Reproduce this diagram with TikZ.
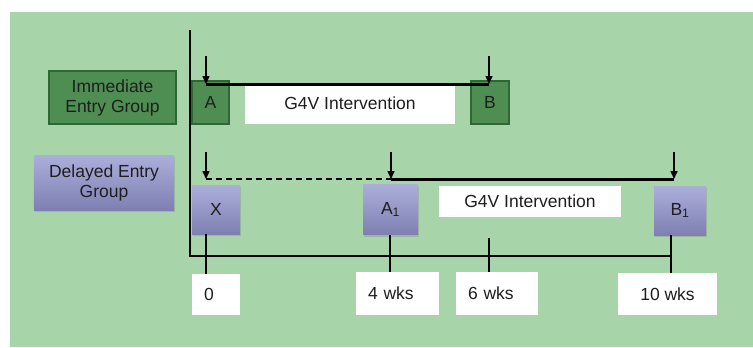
\documentclass[tikz,border=0pt]{standalone}
\usepackage{fontspec}
\setmainfont{Liberation Sans}
\usetikzlibrary{arrows.meta,shadows}
\definecolor{panel}{RGB}{168,212,170}
\definecolor{immfill}{RGB}{78,142,82}
\definecolor{immline}{RGB}{46,102,52}
\definecolor{deltop}{RGB}{172,174,218}
\definecolor{delbot}{RGB}{126,128,178}
\definecolor{ink}{RGB}{30,30,30}

\begin{document}
\begin{tikzpicture}[x=1bp, y=-1bp,
  every node/.style={font=\fontsize{17.5bp}{20bp}\selectfont, text=ink, inner sep=0pt},
  immbox/.style={draw=immline, fill=immfill, line width=1.2bp, align=center},
  delbox/.style={top color=deltop, bottom color=delbot, align=center,
    drop shadow={opacity=0.3, shadow xshift=1bp, shadow yshift=-2bp}},
  whitebox/.style={fill=white},
  wkbox/.style={fill=white, inner xsep=12bp, align=left},
  downarrow/.style={-{Triangle[length=8bp,width=7bp]}, line width=1.5bp},
  timeline/.style={line width=3bp},
  axisline/.style={line width=1.5bp}
]
  \useasboundingbox (0,0) rectangle (753,347);
  \fill[panel] (10,12) rectangle (753,347);

  % groups
  \node[immbox, minimum width=127bp, minimum height=53bp] (imm) at (112.5,97.5) {Immediate\\Entry Group};
  \node[delbox, minimum width=140bp, minimum height=55bp] (del) at (104,182.5) {Delayed Entry\\Group};

  % immediate entry row
  \node[immbox, minimum width=37bp, minimum height=43bp] (a) at (210.5,102.5) {A};
  \node[whitebox, minimum width=210bp, minimum height=41bp] (iva) at (350,103.5) {G4V Intervention};
  \node[immbox, minimum width=38bp, minimum height=43bp] (b) at (490,102.5) {B};

  % delayed entry row
  \node[delbox, minimum width=48bp, minimum height=49bp] (x) at (216,209.5) {X};
  \node[delbox, minimum width=55bp, minimum height=50bp] (a1) at (390.5,209.5) {A\textsubscript{1}};
  \node[whitebox, minimum width=182bp, minimum height=31bp] (ivb) at (530,201.5) {G4V Intervention};
  \node[delbox, minimum width=52bp, minimum height=49bp] (b1) at (680,210.5) {B\textsubscript{1}};

  % week labels
  \node[wkbox, text width=24bp, minimum height=41bp] (t0) at (216,294.5) {0};
  \node[wkbox, text width=59bp, minimum height=43bp] (t4) at (397.5,293.5) {4 wks};
  \node[wkbox, text width=58bp, minimum height=43bp] (t6) at (497,293.5) {6 wks};
  \node[fill=white, minimum width=99bp, minimum height=42bp] (t10) at (667.5,294) {10 wks};

  % axes
  \coordinate (top) at (190,30);
  \coordinate (corner) at (190,256);
  \coordinate (p0) at (206,256);
  \coordinate (p4) at (390,256);
  \coordinate (p6) at (489,256);
  \coordinate (p10) at (671,256);
  \draw[axisline] (top) -- (corner) -- (p10);
  \draw[axisline] (p0 |- x.south) -- (p0 |- t0.north);
  \draw[axisline] (p4 |- a1.south) -- (p4 |- t4.north);
  \draw[axisline] (489,238) -- (p6 |- t6.north);
  \draw[axisline] (p10 |- b1.south) -- (p10 |- t10.north);

  % immediate entry timeline
  \coordinate (sa) at (206,84);
  \coordinate (sb) at (489,84);
  \draw[downarrow] (206,56) -- (sa);
  \draw[downarrow] (489,56) -- (sb);
  \draw[timeline] (sa) -- (sb);

  % delayed entry timeline
  \coordinate (sx) at (206,179);
  \coordinate (sa1) at (391,179);
  \coordinate (sb1) at (674,179);
  \draw[downarrow] (206,152) -- (sx);
  \draw[downarrow] (391,152) -- (sa1);
  \draw[downarrow] (674,152) -- (sb1);
  \draw[axisline, dashed, dash pattern=on 6bp off 4bp] (sx) -- (sa1);
  \draw[timeline] (sa1) -- (sb1);
\end{tikzpicture}
\end{document}
